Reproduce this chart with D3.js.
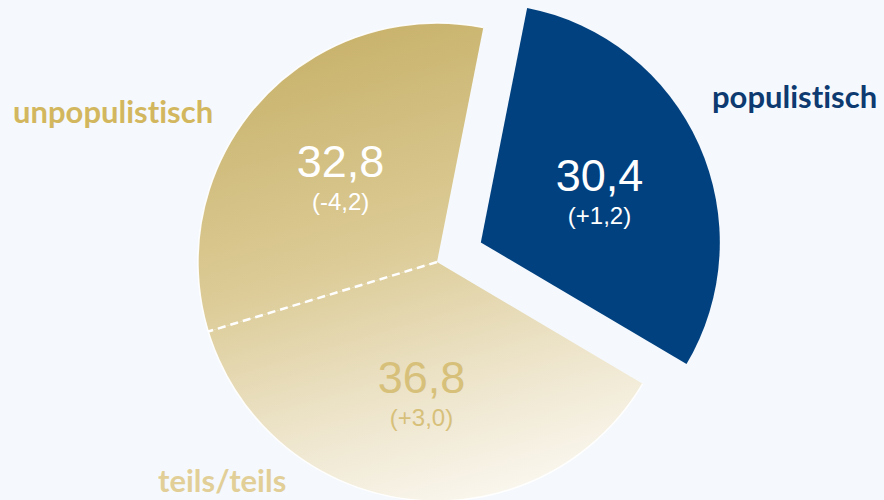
<!DOCTYPE html>
<html>
<head>
<meta charset="utf-8">
<script src="https://cdn.jsdelivr.net/npm/d3@7"></script>
<style>
  html, body { margin: 0; padding: 0; background: #f5f9fd; }
  svg { display: block; }
</style>
</head>
<body>
<div class="svg-div"></div>
<script>
const categories = ['populistisch', 'teils/teils', 'unpopulistisch']
const values = [30.4, 36.8, 32.8]
const changes = ['+1,2', '+3,0', '-4,2']

const w = 884
const h = 500
const cx = 437
const cy = 262
const r = 239
const explode = 48
const startAngle = 0.195

// outer label placement (x, baseline, colour)
const labelPos = {
    'populistisch': { x: 712, y: 108, color: '#0d3a70' },
    'unpopulistisch': { x: 13, y: 123, color: '#d3b75f' },
    'teils/teils': { x: 158, y: 492, color: '#e2cf98' }
}
const fillFor = {
    'populistisch': '#02417f',
    'teils/teils': 'url(#gold)',
    'unpopulistisch': 'url(#gold)'
}
const numColor = {
    'populistisch': '#ffffff',
    'teils/teils': '#d7c07a',
    'unpopulistisch': '#ffffff'
}

const de = d3.formatLocale({ decimal: ',', thousands: '.', grouping: [3], currency: ['', ' €'] })
const fmt = de.format('.1f')

const svg = d3.select('.svg-div')
    .append('svg')
    .attr('width', w)
    .attr('height', h)

const defs = svg.append('defs')
const grad = defs.append('linearGradient')
    .attr('id', 'gold')
    .attr('gradientUnits', 'userSpaceOnUse')
    .attr('x1', -80).attr('y1', -r)
    .attr('x2', 60).attr('y2', r)
const stops = [[0, '#c8b26b'], [0.45, '#dccb96'], [0.75, '#ede4ca'], [1, '#faf7ef']]
stops.forEach(s => grad.append('stop').attr('offset', s[0]).attr('stop-color', s[1]))

const pie = d3.pie()
    .sort(null)
    .startAngle(startAngle)
    .endAngle(startAngle + 2 * Math.PI)
    .value(d => d)

const arcs = pie(values).map((a, i) => Object.assign(a, { name: categories[i], change: changes[i] }))

const arc = d3.arc().innerRadius(0).outerRadius(r)
const labelArc = d3.arc().innerRadius(130).outerRadius(130)

const offsetOf = (d) => {
    if (d.name !== 'populistisch') return [0, 0]
    const mid = (d.startAngle + d.endAngle) / 2
    return [Math.sin(mid) * explode, -Math.cos(mid) * explode]
}

const g = svg.append('g')
    .attr('transform', 'translate(' + cx + ',' + cy + ')')

const slices = g.selectAll('g.slice')
    .data(arcs)
    .enter()
    .append('g')
    .attr('class', 'slice')
    .attr('transform', d => 'translate(' + offsetOf(d) + ')')

slices.append('path')
    .attr('d', arc)
    .attr('fill', d => fillFor[d.name])

// soft white rim round the gold part
const gold = arcs.filter(d => d.name !== 'populistisch')
g.append('path')
    .attr('d', d3.arc().innerRadius(r).outerRadius(r)({
        startAngle: d3.min(gold, d => d.startAngle),
        endAngle: d3.max(gold, d => d.endAngle)
    }))
    .attr('fill', 'none')
    .attr('stroke', '#ffffff')
    .attr('stroke-width', 1.5)
    .attr('stroke-opacity', 0.9)

// dashed divider between teils/teils and unpopulistisch
const split = arcs.find(d => d.name === 'unpopulistisch').startAngle
g.append('line')
    .attr('x1', 0).attr('y1', 0)
    .attr('x2', Math.sin(split) * r).attr('y2', -Math.cos(split) * r)
    .attr('stroke', '#ffffff')
    .attr('stroke-width', 2.5)
    .attr('stroke-dasharray', '8,5')

slices.each(function (d) {
    const c = labelArc.centroid(d)
    const sel = d3.select(this)
    sel.append('text')
        .attr('x', c[0])
        .attr('y', c[1] + 2)
        .attr('text-anchor', 'middle')
        .attr('font-family', 'Liberation Sans, Arial, sans-serif')
        .attr('font-size', 45)
        .attr('fill', numColor[d.name])
        .text(fmt(d.data))
    sel.append('text')
        .attr('x', c[0])
        .attr('y', c[1] + 35)
        .attr('text-anchor', 'middle')
        .attr('font-family', 'Liberation Sans, Arial, sans-serif')
        .attr('font-size', 24)
        .attr('fill', numColor[d.name])
        .text('(' + d.change + ')')
})

svg.selectAll('text.cat')
    .data(categories)
    .enter()
    .append('text')
    .attr('class', 'cat')
    .attr('x', d => labelPos[d].x)
    .attr('y', d => labelPos[d].y)
    .attr('font-family', 'Lato, sans-serif')
    .attr('font-weight', 'bold')
    .attr('font-size', 31)
    .style('font-variant-ligatures', 'none')
    .attr('fill', d => labelPos[d].color)
    .text(d => d)
</script>
</body>
</html>
